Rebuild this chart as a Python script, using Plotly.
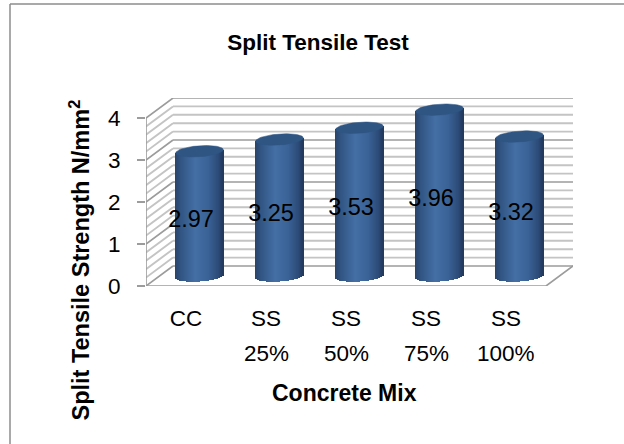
import numpy as np
import plotly.graph_objects as go

categories = ["CC", "SS", "SS", "SS", "SS"]
percents = ["", "25%", "50%", "75%", "100%"]
values = [2.97, 3.25, 3.53, 3.96, 3.32]
y_ticks = [0, 1, 2, 3, 4]
title = "Split Tensile Test"
x_title = "Concrete Mix"
y_title = "Split Tensile Strength N/mm<sup>2</sup>"

# chart-box geometry (pixels)
L, R, T, B = 146, 573, 98, 286
W, H = 624, 444
ppx = 80.0          # px per category
ppy = 42.0          # px per value unit
DX = 27 / ppx       # depth offset along x in data units
DY = 20 / ppy       # depth offset along y in data units
x0 = -0.5
x1 = 4.5
ymax = 4.0

FONT = "Liberation Sans"
GRID_MAJOR = "#9c9c9c"
GRID_MINOR = "#c4c4c4"


def mix(stops, u):
    for (a, ca), (b, cb) in zip(stops, stops[1:]):
        if a <= u <= b:
            t = (u - a) / (b - a)
            c = [ca[i] + (cb[i] - ca[i]) * t for i in range(3)]
            return "rgb(%d,%d,%d)" % tuple(c)
    return "rgb(%d,%d,%d)" % tuple(stops[-1][1])


stops = [(-1.0, (40, 68, 106)), (-0.75, (50, 86, 132)), (-0.15, (68, 112, 166)),
         (0.4, (58, 98, 150)), (0.8, (44, 76, 120)), (1.0, (32, 56, 92))]

fig = go.Figure()


def path_shape(segs, color, width):
    d = " ".join("M%.4f,%.4f L%.4f,%.4f" % s for s in segs)
    return dict(type="path", xref="x", yref="y", layer="below", path=d,
                line=dict(color=color, width=width))


# grid: back wall and left side wall
minor = [v / 5 for v in range(0, 21) if v % 5]
minor_segs = []
for v in minor:
    minor_segs.append((x0, v, x0 + DX, v + DY))
    minor_segs.append((x0 + DX, v + DY, x1 + DX, v + DY))
major_segs = []
for v in y_ticks:
    major_segs.append((x0, v, x0 + DX, v + DY))
    major_segs.append((x0 + DX, v + DY, x1 + DX, v + DY))
frame_segs = [(x0, 0, x1, 0), (x1, 0, x1 + DX, DY), (x0, 0, x0, ymax)]

# cylinders, drawn as thin bars
half_w = 23.8 / ppx
ell_h = 5.5 / ppy
tilt = 1.6 / ppy
n = 48
cx_off = DX / 2
cy_off = DY / 2
us = (np.arange(n) + 0.5) / n * 2 - 1
for i, v in enumerate(values):
    cx = i + cx_off
    xs = cx + us * half_w
    bottoms = cy_off - ell_h * np.sqrt(1 - us ** 2) + tilt * us
    tops = cy_off + v + tilt * us
    fig.add_trace(go.Bar(
        x=xs, y=tops - bottoms, base=bottoms, width=half_w * 2 / n * 1.35,
        marker=dict(color=[mix(stops, float(u)) for u in us], line=dict(width=0)),
        hoverinfo="skip", showlegend=False))
    t = np.linspace(0, 2 * np.pi, 73)
    ex = cx + half_w * np.cos(t)
    ey = cy_off + v + ell_h * np.sin(t) + tilt * np.cos(t)
    fig.add_trace(go.Scatter(x=ex, y=ey, mode="lines", fill="toself", fillcolor="#2f5583",
                             line=dict(color="#2f5583", width=0.5), hoverinfo="skip", showlegend=False))

# data labels
fig.add_trace(go.Scatter(
    x=[i + 5 / ppx for i in range(len(values))],
    y=[v / 2 + 2.6 / ppy for v in values],
    mode="text", text=["%.2f" % v for v in values],
    textfont=dict(family=FONT, size=23.5, color="#000000"),
    textposition="middle center", hoverinfo="skip", showlegend=False))


def px_x(p):
    return (p - L) / (R - L)


def px_y(p):
    return (B - p) / (B - T)


annotations = [
    dict(text="<b>%s</b>" % x_title, xref="paper", yref="paper", x=px_x(344), y=px_y(393),
         xanchor="center", yanchor="middle", showarrow=False,
         font=dict(family=FONT, size=23, color="#000000")),
    dict(text="<b>%s</b>" % y_title, xref="paper", yref="paper", x=px_x(79), y=px_y(260.5),
         xanchor="center", yanchor="middle", textangle=-90, showarrow=False,
         font=dict(family=FONT, size=23.5, color="#000000")),
]
for i, p in enumerate(percents):
    if p:
        annotations.append(dict(text=p, xref="x", yref="paper", x=i, y=px_y(353),
                                xanchor="center", yanchor="middle", showarrow=False,
                                font=dict(family=FONT, size=22.5, color="#000000")))

fig.update_layout(
    width=W, height=H, autosize=False,
    paper_bgcolor="white", plot_bgcolor="white",
    margin=dict(l=L, r=W - R, t=T, b=H - B, pad=0),
    barmode="overlay", bargap=0,
    showlegend=False,
    font=dict(family=FONT, color="#000000"),
    title=dict(text="<b>%s</b>" % title, x=318 / W, xanchor="center", y=1 - 42 / H, yanchor="middle",
               font=dict(family=FONT, size=22.5, color="#000000")),
    xaxis=dict(range=[x0, x1 + DX], tickmode="array", tickvals=list(range(len(categories))), ticktext=categories,
               showgrid=False, zeroline=False, showline=False, ticks="outside", ticklen=12,
               tickcolor="rgba(0,0,0,0)",
               tickfont=dict(family=FONT, size=22.5, color="#000000")),
    yaxis=dict(range=[0, ymax + DY], tickmode="array", tickvals=y_ticks, ticktext=[str(v) for v in y_ticks],
               showgrid=False, zeroline=False, showline=False, ticks="outside", ticklen=8, tickcolor=GRID_MAJOR, tickwidth=1.5,
               ticklabelstandoff=12,
               tickfont=dict(family=FONT, size=22.5, color="#000000")),
    annotations=annotations,
    shapes=[
        path_shape(minor_segs, GRID_MINOR, 1.9),
        path_shape(major_segs, GRID_MAJOR, 1.6),
        path_shape(frame_segs, GRID_MAJOR, 1.6),
        dict(type="line", xref="paper", yref="paper", layer="below",
             x0=px_x(10), x1=px_x(624), y0=px_y(4), y1=px_y(4),
             line=dict(color="#8c8c8c", width=1.5)),
        dict(type="line", xref="paper", yref="paper", layer="below",
             x0=px_x(10), x1=px_x(10), y0=px_y(4), y1=px_y(444),
             line=dict(color="#8c8c8c", width=1.5)),
    ],
)
fig.write_html("out.html", config=dict(displayModeBar=False),
               post_script="document.body.style.margin='0';")
